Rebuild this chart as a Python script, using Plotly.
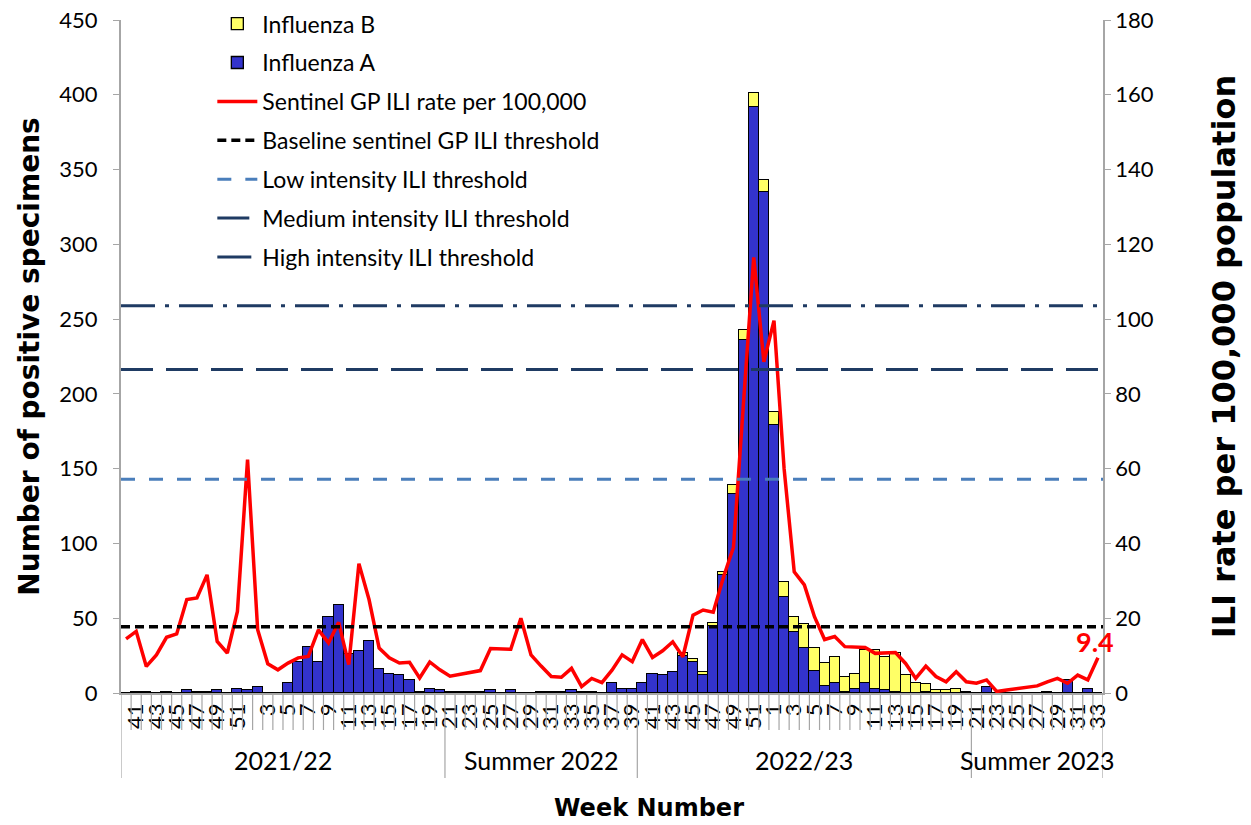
import plotly.graph_objects as go

# ---------------- data ----------------
groups = ["2021/22", "Summer 2022", "2022/23", "Summer 2023"]
weeks_2122 = list(range(40, 53)) + list(range(2, 21))
weeks_s22 = list(range(21, 40))
weeks_2223 = list(range(40, 53)) + list(range(1, 21))
weeks_s23 = list(range(21, 34))
group_weeks = [weeks_2122, weeks_s22, weeks_2223, weeks_s23]

flu_a_2122 = [0, 1, 1, 0, 1, 0, 2, 1, 1, 2, 0, 3, 2,
              4, 0, 0, 7, 21, 31, 21, 51, 59, 26, 28, 35, 16, 13, 12, 9, 1, 3, 2]
flu_a_s22 = [1, 1, 1, 1, 2, 0, 2, 0, 0, 1, 1, 1, 2, 1, 1, 0, 7, 3, 3]
flu_a_2223 = [7, 13, 12, 14, 25, 21, 12, 45, 79, 133, 236, 392, 335,
              179, 64, 41, 30, 15, 5, 7, 1, 3, 7, 3, 2, 1, 0, 0, 1, 0, 0, 0, 0]
flu_a_s23 = [0, 4, 0, 0, 0, 0, 0, 1, 0, 9, 0, 3, 0]

flu_b_2122 = [0] * 32
flu_b_s22 = [0] * 19
flu_b_2223 = [0, 0, 0, 0, 2, 2, 2, 2, 2, 6, 7, 9, 8,
              9, 10, 10, 16, 15, 15, 17, 10, 10, 22, 26, 22, 26, 12, 7, 5, 2, 2, 3, 1]
flu_b_s23 = [0] * 13

ili_2122 = [14.5, 16.5, 7.1, 10.2, 14.9, 15.8, 25.0, 25.4, 31.6, 13.8, 10.7, 21.8, 62.4,
            16.9, 7.8, 6.2, 8.0, 9.4, 9.8, 16.9, 13.4, 18.9, 7.6, 34.6, 25.0, 12.0, 9.4,
            8.0, 8.2, 4.0, 8.3, 6.2]
ili_s22 = [4.5, 5.0, 5.3, 6.0, 11.9, 11.9, 11.7, 20.0, 10.2, 7.2, 4.4, 4.2, 6.6, 1.7,
           3.9, 2.8, 6.1, 10.2, 8.4]
ili_2223 = [14.3, 9.5, 11.3, 13.7, 9.7, 20.8, 22.2, 21.6, 30.9, 39.0, 78.0, 116.5, 88.6,
            99.6, 60.0, 32.4, 28.9, 20.4, 14.3, 15.1, 12.4, 12.2, 12.2, 10.6, 10.8, 10.8,
            7.9, 3.9, 7.2, 4.4, 3.0, 5.7, 3.0]
ili_s23 = [2.6, 3.5, 0.4, 0.8, 1.2, 1.5, 1.9, 3.0, 3.9, 2.6, 4.8, 3.5, 9.4]

baseline_threshold = 17.7
low_threshold = 57.2
medium_threshold = 86.5
high_threshold = 103.6
latest_label = "9.4"

# ---------------- build categories ----------------
cats, week_of_cat, group_sizes = [], [], []
for gi, wl in enumerate(group_weeks):
    group_sizes.append(len(wl))
    for w in wl:
        cats.append(f"G{gi}-W{w}")
        week_of_cat.append(w)

flu_a = flu_a_2122 + flu_a_s22 + flu_a_2223 + flu_a_s23
flu_b = flu_b_2122 + flu_b_s22 + flu_b_2223 + flu_b_s23
ili = ili_2122 + ili_s22 + ili_2223 + ili_s23

tickvals = [c for c, w in zip(cats, week_of_cat) if w % 2 == 1]
ticktext = [str(w) for w in week_of_cat if w % 2 == 1]

FONT = "Lato"
TITLE_FONT = "DejaVu Sans"
fig = go.Figure()

fig.add_trace(go.Bar(
    x=cats, y=flu_a, name="Influenza A",
    marker=dict(color="#3333CC", line=dict(color="black", width=1.3)),
    legendgroup="a", legendrank=2))
fig.add_trace(go.Bar(
    x=cats, y=flu_b, name="Influenza B",
    marker=dict(color="#FFFF66", line=dict(color="black", width=1.3)),
    legendgroup="b", legendrank=1))
fig.add_trace(go.Scatter(
    x=cats, y=ili, yaxis="y2", mode="lines", name="Sentinel GP ILI rate per 100,000",
    line=dict(color="#FF0000", width=3.5), legendgroup="c", legendrank=3))

thresholds = [
    (baseline_threshold, "Baseline sentinel GP ILI threshold", "black", "9px,5px", 3.5),
    (low_threshold, "Low intensity ILI threshold", "#4A7EBB", "14px,14px", 3),
    (medium_threshold, "Medium intensity ILI threshold", "#1F3B63", "32px,13px", 3),
    (high_threshold, "High intensity ILI threshold", "#1F3B63", "34px,10px,4px,10px", 3),
]
shapes = []
for k, (val, nm, col, dash, wd) in enumerate(thresholds):
    shapes.append(dict(type="line", xref="x domain", x0=0, x1=1, yref="y2", y0=val, y1=val,
                       line=dict(color=col, width=wd, dash=dash), layer="above",
                       showlegend=True, name=nm, legendgroup=f"t{k}", legendrank=4 + k))

# category boundary lines and group dividers below the axis
n = len(cats)
group_edges = [-0.5]
acc = -0.5
for s in group_sizes:
    acc += s
    group_edges.append(acc)
for k in range(n + 1):
    xb = k - 0.5
    is_group = any(abs(xb - g) < 1e-9 for g in group_edges)
    shapes.append(dict(type="line", xref="x", x0=xb, x1=xb, yref="paper",
                       y0=0, y1=-0.1263 if is_group else -0.055,
                       line=dict(color="#A6A6A6", width=1.2), layer="above"))

W, H = 1251, 825
L, R, T, B = 121, 148, 20, 132
pw, ph = W - L - R, H - T - B

annotations = []
start = 0
for g, s in zip(groups, group_sizes):
    annotations.append(dict(x=start + (s - 1) / 2, xref="x", y=-0.0996, yref="paper",
                            text=g, showarrow=False, yanchor="middle",
                            font=dict(family=FONT, size=25, color="black")))
    start += s
annotations.append(dict(x=cats[-1], xref="x", y=ili[-1], yref="y2", text=f"<b>{latest_label}</b>",
                        showarrow=False, xshift=-3, yshift=16,
                        font=dict(family=FONT, size=27, color="#FF0000")))
# x-axis title (placed like the original, slightly right of the plot centre)
annotations.append(dict(x=(649 - L) / pw, xref="paper", y=(H - B - 808) / ph, yref="paper",
                        text="<b>Week Number</b>", showarrow=False,
                        xanchor="center", yanchor="middle",
                        font=dict(family=TITLE_FONT, size=24, color="black")))

fig.update_layout(
    width=W, height=H,
    margin=dict(l=L, r=R, t=T, b=B, autoexpand=False),
    plot_bgcolor="white", paper_bgcolor="white",
    barmode="stack", bargap=0,
    font=dict(family=FONT, color="black"),
    shapes=shapes, annotations=annotations,
    legend=dict(x=0.093, y=1.0265, xanchor="left", yanchor="top",
                traceorder="grouped", tracegroupgap=6, itemwidth=40,
                font=dict(family=FONT, size=23), bgcolor="rgba(0,0,0,0)"),
    xaxis=dict(type="category", categoryorder="array", categoryarray=cats,
               range=[-0.5, n - 0.5], tickmode="array", tickvals=tickvals, ticktext=ticktext,
               tickangle=-90, tickfont=dict(family=FONT, size=22), ticks="",
               showline=True, linecolor="#A6A6A6", linewidth=1.5, showgrid=False,
               automargin=False),
    yaxis=dict(range=[0, 450], dtick=50, showgrid=False, zeroline=False,
               showline=True, linecolor="#A6A6A6", linewidth=1.5,
               ticks="outside", ticklen=6, tickcolor="#A6A6A6",
               ticksuffix="\u00a0\u00a0",
               tickfont=dict(family=FONT, size=22), automargin=False,
               title=dict(text="<b>Number of positive specimens</b>",
                          font=dict(family=TITLE_FONT, size=28), standoff=12)),
    yaxis2=dict(range=[0, 180], dtick=20, overlaying="y", side="right", showgrid=False,
                zeroline=False, showline=True, linecolor="#A6A6A6", linewidth=1.5,
                ticks="outside", ticklen=6, tickcolor="#A6A6A6",
                tickfont=dict(family=FONT, size=22), automargin=False,
                title=dict(text="<b>ILI rate per 100,000 population</b>",
                           font=dict(family=TITLE_FONT, size=32), standoff=60)),
)

fig.write_html("out.html", config={"displayModeBar": False},
               post_script="document.body.style.margin='0px';")
